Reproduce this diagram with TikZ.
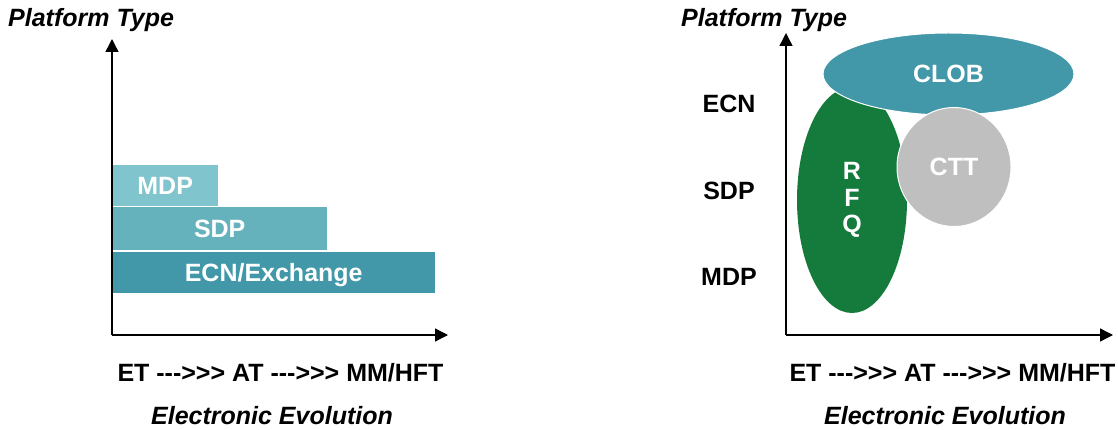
\documentclass[tikz,border=0pt]{standalone}
\usepackage{fontspec}
\setmainfont{Liberation Sans}[Ligatures=TeXOff]
\usetikzlibrary{shapes.geometric,arrows.meta}

\definecolor{tealdark}{HTML}{4298A8}
\definecolor{tealmid}{HTML}{65B2BD}
\definecolor{teallight}{HTML}{80C4CD}
\definecolor{rfqgreen}{HTML}{157B3D}
\definecolor{cttgray}{HTML}{BFBFBF}

\tikzset{
  lbl/.style={inner sep=0pt, font=\fontsize{25}{29}\selectfont\bfseries},
  ttl/.style={lbl, font=\fontsize{25}{29}\selectfont\bfseries\itshape},
  axis/.style={line width=1.4pt, -{Triangle[length=13pt,width=13pt]}},
  bar/.style={draw=none, inner sep=0pt, anchor=north west, text=white,
    font=\fontsize{25}{29}\selectfont\bfseries, text height=17.8pt, text depth=0pt},
  blob/.style={ellipse, inner sep=0pt, text=white,
    font=\fontsize{25}{26.5}\selectfont\bfseries},
}

\begin{document}
\begin{tikzpicture}[x=1pt, y=-1pt]
\useasboundingbox (0,0) rectangle (1118,430);

% ---------- left chart: stacked platform bars ----------
\coordinate (lo) at (112,335);
\coordinate (ly) at (112,39);
\coordinate (lx) at (448,335);

\node[bar, fill=teallight, minimum width=106pt, minimum height=40.5pt] (mdp) at (112,165) {MDP};
\node[bar, fill=tealmid, minimum width=215pt, minimum height=42.5pt] (sdp) at (112,207) {SDP};
\node[bar, fill=tealdark, minimum width=323pt, minimum height=41pt] (ecn) at (112,251.5) {ECN/Exchange};

\draw[axis] (lo) -- (ly);
\draw[axis] (lo) -- (lx);

\node[ttl, anchor=base west] (lptype) at (8,27) {Platform Type};
\node[lbl, anchor=base] (lxlab) at (280.5,381) {ET --->>> AT --->>> MM/HFT};
\node[ttl, anchor=base] (levo) at (272,424) {Electronic Evolution};

% ---------- right chart: overlapping platform regions ----------
\coordinate (ro) at (786,335);
\coordinate (ry) at (786,33);
\coordinate (rx) at (1113,335);

\node[blob, fill=rfqgreen, minimum width=110pt, minimum height=226pt, align=center] (rfq) at (852,200) {R\\F\\Q};
\node[blob, fill=tealdark, draw=white, line width=1pt, minimum width=251pt, minimum height=82pt] (clob) at (948.5,74) {CLOB};
\node[blob, fill=cttgray, draw=white, line width=1pt, minimum width=114pt, minimum height=119pt] (ctt) at (954,167) {CTT};

\draw[axis] (ro) -- (ry);
\draw[axis] (ro) -- (rx);

\node[lbl] (recn) at (729,104) {ECN};
\node[lbl] (rsdp) at (729,191) {SDP};
\node[lbl] (rmdp) at (729,277) {MDP};

\node[ttl, anchor=base west] (rptype) at (681,27) {Platform Type};
\node[lbl, anchor=base] (rxlab) at (952.5,381) {ET --->>> AT --->>> MM/HFT};
\node[ttl, anchor=base] (revo) at (945,424) {Electronic Evolution};
\end{tikzpicture}
\end{document}
